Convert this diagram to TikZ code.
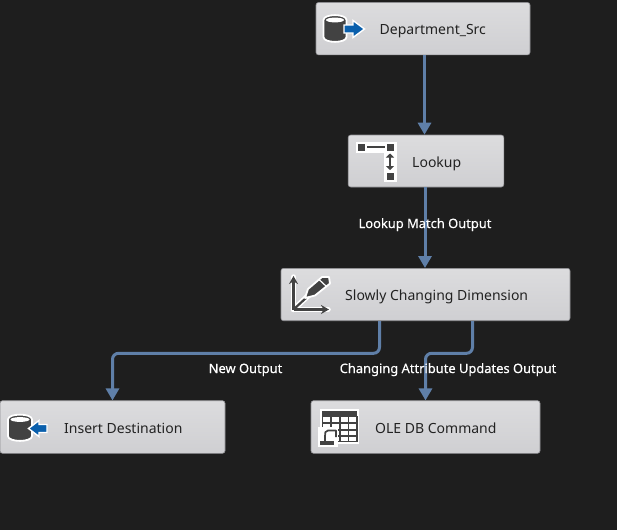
\documentclass[tikz,border=0pt]{standalone}
\usepackage{fontspec}
\setmainfont{Noto Sans}
\newfontfamily\labelfont[FakeBold=0.35]{Noto Sans}
\usetikzlibrary{arrows.meta,calc,shadings}
\definecolor{bgc}{HTML}{1E1E1E}
\definecolor{boxtop}{HTML}{DCDCDE}
\definecolor{boxbot}{HTML}{CFCFD2}
\definecolor{boxedge}{HTML}{8E8E92}
\definecolor{flowc}{HTML}{5F7FA8}
\definecolor{icond}{HTML}{424242}
\definecolor{iconb}{HTML}{0A5FAC}
\definecolor{txtc}{HTML}{222222}
\tikzset{
  taskbox/.style={draw=boxedge,line width=0.6pt,rounded corners=2.5pt,top color=boxtop,bottom color=boxbot,inner sep=0pt},
  tasktext/.style={text=txtc,font=\fontsize{14}{16}\selectfont,inner sep=0pt,anchor=base west},
  flowlabel/.style={text=white,font=\labelfont\fontsize{12.9}{15}\selectfont,inner sep=0pt,anchor=base},
  flow/.style={draw=flowc,line width=3pt,rounded corners=6pt,-{Triangle[length=12pt,width=13pt]}},
  halo/.style={draw=white,line width=5.5pt,line cap=round,line join=round},
  haloline/.style={draw=icond,line width=2.4pt,line cap=butt},
  drum/.style={fill=icond,draw=white,line width=1.8pt},
  blockarrow/.style={fill=iconb,draw=white,line width=1.4pt,line join=miter},
  sq/.style={fill=icond,draw=white,line width=1.5pt}
}
\begin{document}
\begin{tikzpicture}[x=1pt,y=-1pt]
\useasboundingbox[fill=bgc] (0,0) rectangle (617,530);

% task boxes
\node[taskbox,minimum width=214pt,minimum height=52.4pt] (dept) at (423,28.7) {};
\node[taskbox,minimum width=155.6pt,minimum height=52pt] (lookup) at (426,161) {};
\node[taskbox,minimum width=289pt,minimum height=52.4pt] (scd) at (425.5,294.5) {};
\node[taskbox,minimum width=229pt,minimum height=52.6pt] (ole) at (425.5,427) {};
\node[taskbox,minimum width=225pt,minimum height=52.6pt] (ins) at (112.5,427) {};

% task texts
\node[tasktext] (deptt) at (379.5,34) {Department\_Src};
\node[tasktext] (lookupt) at (412,167) {Lookup};
\node[tasktext] (scdt) at (345,300) {Slowly Changing Dimension};
\node[tasktext] (olet) at (375,433) {OLE DB Command};
\node[tasktext] (inst) at (64,433) {Insert Destination};

% connectors
\draw[flow] ([xshift=1.5pt]dept.south) -- ([xshift=-1.5pt]lookup.north);
\draw[flow] ([xshift=-1pt]lookup.south) -- ([xshift=-0.5pt]scd.north);
\draw[flow] ([xshift=-46pt]scd.south) -- ++(0,32.3) -| (ins.north);
\draw[flow] ([xshift=47pt]scd.south) -- ++(0,32.3) -| (ole.north);

% connector labels
\node[flowlabel] (l1) at (425,228) {Lookup Match Output};
\node[flowlabel] (l2) at (245.5,373) {New Output};
\node[flowlabel] (l3) at (448,373) {Changing Attribute Updates Output};

% source icon
\begin{scope}
  \path[drum] (323.5,20) -- (323.5,37) .. controls (323.5,43.5) and (346.5,43.5) .. (346.5,37) -- (346.5,20) .. controls (346.5,13.5) and (323.5,13.5) .. (323.5,20) -- cycle;
  \path[fill=white] (335,20) ellipse[x radius=9,y radius=2.4];
  \path[blockarrow] (344,25) -- (353,25) -- (353,20.5) -- (364.5,29) -- (353,37.5) -- (353,33) -- (344,33) -- cycle;
\end{scope}

% destination icon
\begin{scope}
  \path[drum] (8,419.5) -- (8,436) .. controls (8,442.5) and (32,442.5) .. (32,436) -- (32,419.5) .. controls (32,413) and (8,413) .. (8,419.5) -- cycle;
  \path[fill=white] (20,419.5) ellipse[x radius=9.5,y radius=2.4];
  \path[blockarrow] (47,424.5) -- (39,424.5) -- (39,420.5) -- (28.5,428.5) -- (39,436.5) -- (39,432.5) -- (47,432.5) -- cycle;
\end{scope}

% lookup icon
\begin{scope}
  \path[fill=white] (356,142) rectangle (397,153);
  \path[fill=white] (384,142) rectangle (397,182);
  \draw[haloline] (362,147) -- (390,147);
  \draw[draw=icond,line width=2.2pt,{Triangle[length=4pt,width=8pt]}-{Triangle[length=4pt,width=8pt]}] (390,153.5) -- (390,170);
  \path[sq] (357,143) rectangle (366,151.5);
  \path[sq] (386,143) rectangle (395,151.5);
  \path[sq] (386,172) rectangle (395,181);
\end{scope}

% slowly changing dimension icon
\begin{scope}
  \draw[halo] (293.5,277) -- (293.5,309.5) -- (328,309.5);
  \draw[halo] (293.5,309.5) -- (310,294);
  \draw[draw=icond,line width=2.3pt,line join=round,-{Stealth[length=8pt,width=9pt]}] (293.5,309.5) -- (293.5,276);
  \draw[draw=icond,line width=2.3pt,line join=round,-{Stealth[length=8pt,width=9pt]}] (293.5,309.5) -- (329,309.5);
  \draw[draw=icond,line width=2.2pt] (293.5,309.5) -- (306,298);
  \path[fill=icond,draw=white,line width=1.8pt,line join=round] (305,298) -- (308,289) -- (322,277) -- (329,277) -- (330,283.5) -- (315,295.5) -- cycle;
  \draw[white,line width=1.2pt] (319,279.5) -- (326.5,286.5);
\end{scope}

% OLE DB command icon
\begin{scope}
  \path[fill=white] (320,409) rectangle (359,443.5);
  \path[fill=icond] (322,410.5) rectangle (357,416);
  \foreach \yy in {416,423,430,436,441.5} \draw[icond,line width=1.1pt] (322.5,\yy) -- (357,\yy);
  \foreach \xx in {322.5,331,340,348.5,357} \draw[icond,line width=1.1pt] (\xx,416) -- (\xx,441.5);
  \path[fill=white] (318,427) rectangle (338,446.5);
  \draw[icond,line width=1.7pt,line join=round] (336,437) -- (336,430.5) -- (328,430.5) .. controls (325,430.5) and (325,433) .. (325,436) -- (325,441);
  \draw[icond,line width=1.5pt,fill=icond] (321,441.5) -- (333,441.5) -- (333,444) -- (321,444) -- cycle;
\end{scope}
\end{tikzpicture}
\end{document}
